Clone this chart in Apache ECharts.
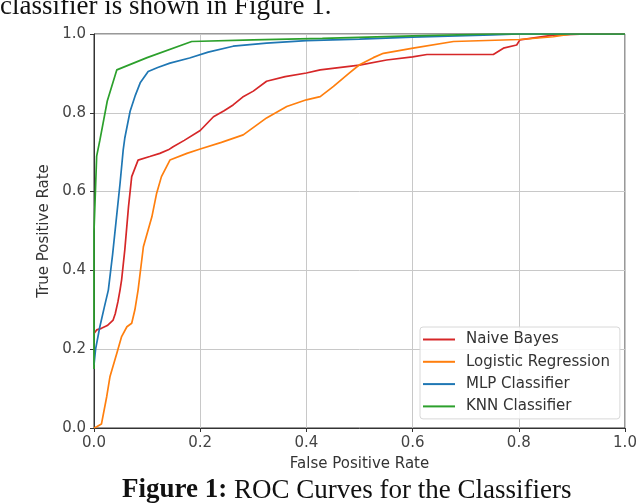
<!DOCTYPE html>
<html>
<head>
<meta charset="utf-8">
<script src="https://cdn.jsdelivr.net/npm/echarts@6/dist/echarts.min.js"></script>
<style>
  html, body { margin: 0; padding: 0; background: #fff; }
  #chart { width: 640px; height: 503px; }
</style>
</head>
<body>
<div id="chart"></div>
<script>
// series names and colours
const names = ['Naive Bayes', 'Logistic Regression', 'MLP Classifier', 'KNN Classifier'];
const colors = ['#d62728', '#ff7f0e', '#1f77b4', '#2ca02c'];
const ticks = [0, 0.2, 0.4, 0.6, 0.8, 1.0];

// Naive Bayes
const nbFpr = [0, 0.005, 0.014, 0.025, 0.036, 0.04, 0.045, 0.049, 0.052, 0.058, 0.065, 0.071, 0.083, 0.105, 0.124, 0.14, 0.149, 0.17, 0.2, 0.225, 0.245, 0.262, 0.28, 0.3, 0.325, 0.36, 0.4, 0.426, 0.5, 0.551, 0.6, 0.627, 0.752, 0.771, 0.796, 0.802, 0.865, 0.928, 1.0];
const nbTpr = [0.24, 0.249, 0.253, 0.26, 0.274, 0.29, 0.32, 0.35, 0.376, 0.452, 0.562, 0.638, 0.68, 0.689, 0.697, 0.706, 0.714, 0.73, 0.755, 0.79, 0.805, 0.82, 0.84, 0.855, 0.88, 0.892, 0.901, 0.909, 0.921, 0.934, 0.942, 0.948, 0.948, 0.964, 0.972, 0.985, 0.997, 1.0, 1.0];

// Logistic Regression
const lrFpr = [0, 0.005, 0.014, 0.024, 0.03, 0.043, 0.052, 0.062, 0.071, 0.077, 0.083, 0.093, 0.109, 0.118, 0.127, 0.143, 0.175, 0.2, 0.24, 0.281, 0.325, 0.363, 0.4, 0.426, 0.451, 0.48, 0.5, 0.526, 0.545, 0.601, 0.677, 0.802, 0.865, 0.9, 1.0];
const lrTpr = [0, 0.003, 0.01, 0.08, 0.13, 0.19, 0.232, 0.257, 0.266, 0.3, 0.35, 0.46, 0.536, 0.596, 0.638, 0.68, 0.697, 0.708, 0.725, 0.744, 0.787, 0.816, 0.833, 0.841, 0.867, 0.9, 0.922, 0.94, 0.951, 0.964, 0.981, 0.986, 0.993, 1.0, 1.0];

// MLP Classifier
const mlpFpr = [0, 0.003, 0.011, 0.02, 0.027, 0.035, 0.042, 0.049, 0.055, 0.058, 0.068, 0.078, 0.087, 0.102, 0.12, 0.143, 0.18, 0.215, 0.262, 0.325, 0.4, 0.5, 0.6, 0.75, 0.8, 1.0];
const mlpTpr = [0.16, 0.2, 0.257, 0.31, 0.35, 0.44, 0.53, 0.62, 0.706, 0.736, 0.804, 0.845, 0.876, 0.905, 0.915, 0.926, 0.939, 0.954, 0.969, 0.977, 0.983, 0.987, 0.992, 0.998, 1.0, 1.0];

// KNN Classifier
const knnFpr = [0, 0, 0.005, 0.011, 0.025, 0.043, 0.1, 0.184, 0.3, 0.43, 0.6, 0.75, 1.0];
const knnTpr = [0.15, 0.5, 0.69, 0.73, 0.83, 0.909, 0.94, 0.981, 0.985, 0.989, 0.995, 1.0, 1.0];

const pairs = (xs, ys) => xs.map((x, i) => [x, ys[i]]);
const curves = [pairs(nbFpr, nbTpr), pairs(lrFpr, lrTpr), pairs(mlpFpr, mlpTpr), pairs(knnFpr, knnTpr)];

const chart = echarts.init(document.getElementById('chart'));
const axisFont = 'DejaVu Sans';

function valueAxis(name, nameGap) {
  return {
    type: 'value',
    min: ticks[0],
    max: ticks[ticks.length - 1],
    interval: 0.2,
    name: name,
    nameLocation: 'middle',
    nameGap: nameGap,
    nameTextStyle: { fontFamily: axisFont, fontSize: 15, color: '#333' },
    axisLine: { show: true, lineStyle: { color: '#333', width: 1 } },
    axisTick: { show: true, length: 4, lineStyle: { color: '#333' } },
    axisLabel: {
      fontFamily: axisFont, fontSize: 15, color: '#444', margin: 8,
      formatter: v => v.toFixed(1)
    },
    splitLine: { show: true, lineStyle: { color: '#c8c8c8', width: 1 } }
  };
}

chart.setOption({
  animation: false,
  backgroundColor: '#fff',
  color: colors,
  grid: {
    left: 94, right: 15, top: 34, bottom: 75,
    show: true, borderColor: '#333', borderWidth: 1
  },
  xAxis: valueAxis('False Positive Rate', 29),
  yAxis: valueAxis('True Positive Rate', 35),
  legend: {
    orient: 'vertical',
    left: 420,
    top: 327,
    padding: [5, 10, 5, 3],
    icon: 'rect',
    itemWidth: 32,
    itemHeight: 2,
    itemGap: 7.3,
    backgroundColor: 'rgba(255,255,255,0.85)',
    borderColor: '#d8d8d8',
    borderWidth: 1,
    borderRadius: 3,
    textStyle: { fontFamily: axisFont, fontSize: 15, color: '#333', lineHeight: 15, padding: [0, 0, 0, 6] },
    data: names
  },
  series: names.map((n, i) => ({
    name: n,
    type: 'line',
    data: curves[i],
    symbol: 'none',
    lineStyle: { width: 1.7, color: colors[i] },
    itemStyle: { color: colors[i] }
  })),
  graphic: [
    {
      type: 'text', left: 0, top: -7,
      style: { text: 'classifier is shown in Figure 1.', font: '27px "Liberation Serif"', fill: '#111' }
    },
    {
      type: 'text', left: 122, top: 477,
      style: {
        text: '{b|Figure 1:} ROC Curves for the Classifiers',
        font: '27px "Liberation Serif"', fill: '#111',
        rich: { b: { fontWeight: 'bold', fontFamily: 'Liberation Serif', fontSize: 27 } }
      }
    }
  ]
});
</script>
</body>
</html>
